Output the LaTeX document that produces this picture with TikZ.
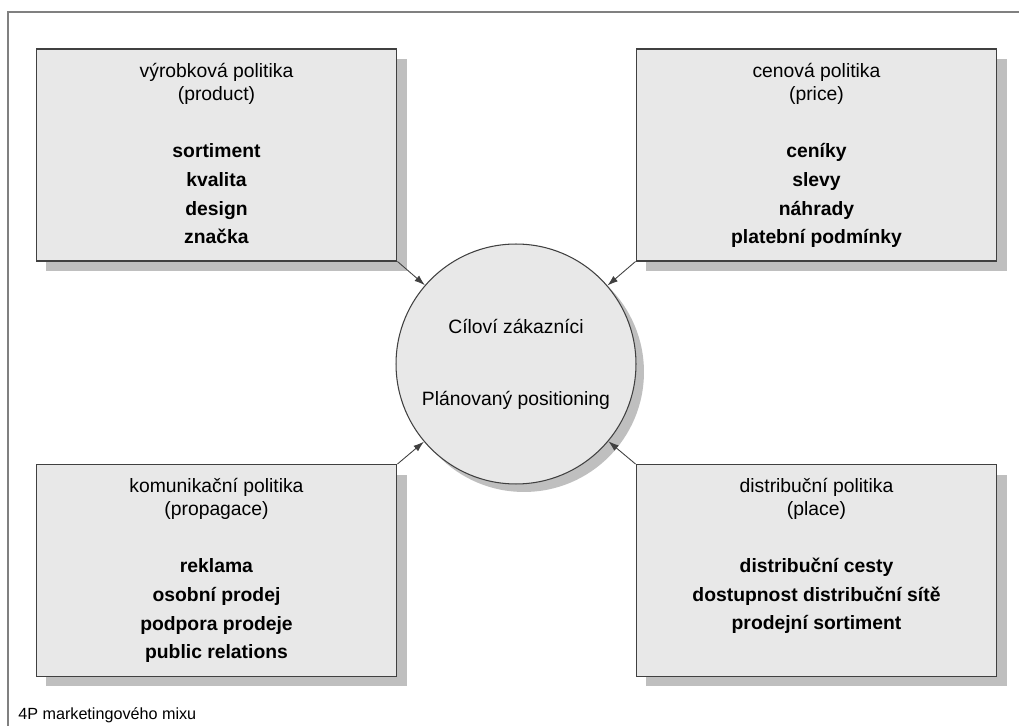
\documentclass[tikz,border=0pt]{standalone}
\usepackage{fontspec}
\setmainfont{Liberation Sans}
\usetikzlibrary{shadows}
\usetikzlibrary{arrows.meta}

\definecolor{boxfill}{HTML}{E8E8E8}
\definecolor{boxline}{HTML}{404040}

\tikzset{
  policy/.style={draw=boxline, fill=boxfill, line width=0.6pt, inner sep=0,
    minimum width=7.22cm, minimum height=4.24cm,
    drop shadow={shadow xshift=0.2cm, shadow yshift=-0.2cm, fill=black!25, opacity=1}},
  target/.style={circle, draw=boxline, fill=boxfill, line width=0.6pt, inner sep=0,
    minimum size=4.8cm, align=center, font=\fontsize{11}{12.5}\selectfont,
    drop shadow={shadow xshift=0.16cm, shadow yshift=-0.16cm, fill=black!25, opacity=1}},
  boxtext/.style={align=center, anchor=base, inner sep=0, font=\fontsize{11}{12.5}\selectfont},
  feed/.style={draw=boxline, line width=0.5pt, -{Latex[length=6pt,width=4pt]}},
}

\begin{document}
\begin{tikzpicture}[x=0.02cm, y=-0.02cm]
\useasboundingbox (0,0) rectangle (1019,726);
\draw[color=black!50, line width=0.6pt] (1019,12) -- (8,12) -- (8,726);

\node (prod) at (216.5,155) [policy] {};
\node (price) at (816.5,155) [policy] {};
\node (prom) at (216.5,570.5) [policy] {};
\node (place) at (816.5,570.5) [policy] {};
\node (cust) at (516,364) [target] {Cíloví zákazníci\\[28.5pt]Plánovaný positioning};

% base anchor = baseline of the last line
\node (prod-t) at (216.5,244) [boxtext] {výrobková politika\\[0.6pt](product)\\[19.6pt]
  \textbf{sortiment}\\[4pt]\textbf{kvalita}\\[4pt]\textbf{design}\\[4pt]\textbf{značka}};
\node (price-t) at (816.5,244) [boxtext] {cenová politika\\[0.6pt](price)\\[19.6pt]
  \textbf{ceníky}\\[4pt]\textbf{slevy}\\[4pt]\textbf{náhrady}\\[4pt]\textbf{platební podmínky}};
\node (prom-t) at (216.5,659) [boxtext] {komunikační politika\\[0.6pt](propagace)\\[19.6pt]
  \textbf{reklama}\\[4pt]\textbf{osobní prodej}\\[4pt]\textbf{podpora prodeje}\\[4pt]\textbf{public relations}};
\node (place-t) at (816.5,630) [boxtext] {distribuční politika\\[0.6pt](place)\\[19.6pt]
  \textbf{distribuční cesty}\\[4pt]\textbf{dostupnost distribuční sítě}\\[4pt]\textbf{prodejní sortiment}};

\node (caption) at (18,720) [anchor=base west, inner sep=0, font=\fontsize{9.2}{11}\selectfont] {4P marketingového mixu};

\draw[feed] (prod.south east) -- (cust);
\draw[feed] (price.south west) -- (cust);
\draw[feed] (prom.north east) -- (cust);
\draw[feed] (place.north west) -- (cust);
\end{tikzpicture}
\end{document}
